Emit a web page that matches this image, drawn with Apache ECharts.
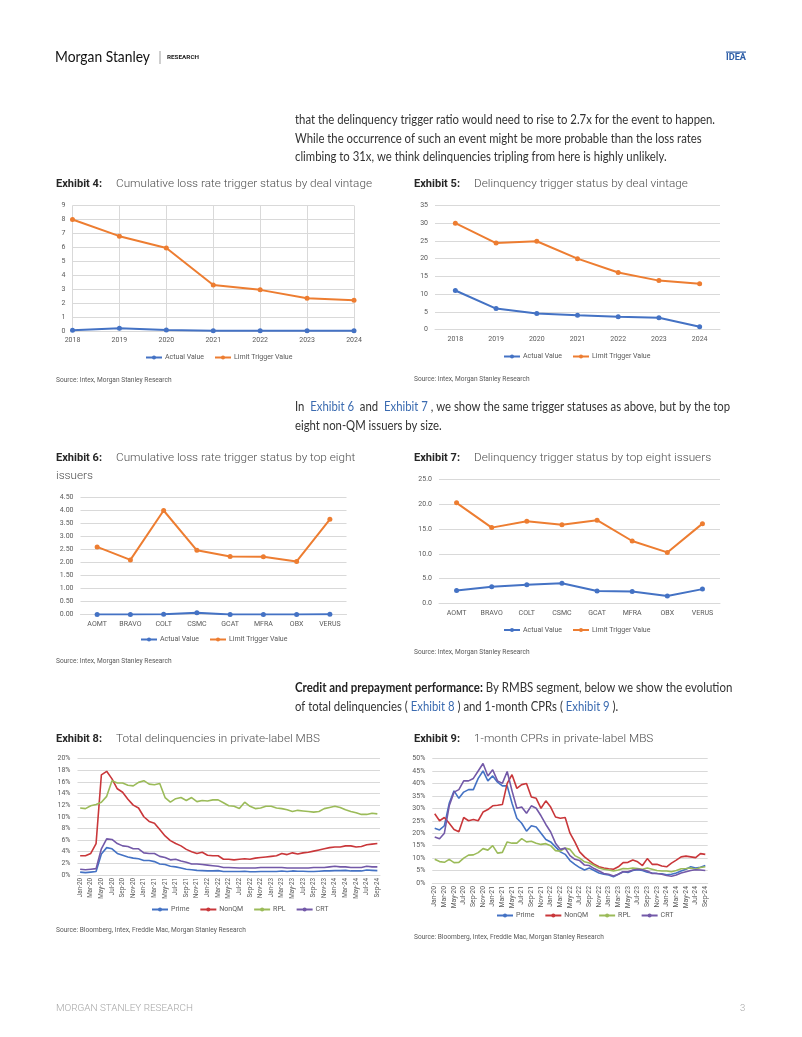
<!DOCTYPE html>
<html><head><meta charset="utf-8">
<script src="https://cdn.jsdelivr.net/npm/echarts@6/dist/echarts.min.js"></script>
<style>html,body{margin:0;padding:0;background:#fff}#c{width:802px;height:1037px}</style>
</head><body><div id="c"></div>
<script>
// ---------- data ----------
const vintages = ['2018','2019','2020','2021','2022','2023','2024'];
const ex4Actual = [0.05,0.2,0.07,0.02,0.02,0.01,0.01];
const ex4Limit  = [8.0,6.8,5.95,3.3,2.95,2.35,2.2];
const ex5Actual = [11,5.9,4.5,4.0,3.6,3.3,0.8];
const ex5Limit  = [30,24.4,24.9,20,16.1,13.8,12.9];

const issuers = ['AOMT','BRAVO','COLT','CSMC','GCAT','MFRA','OBX','VERUS'];
const ex6Actual = [0,0,0.01,0.07,0,0,0,0.01];
const ex6Limit  = [2.6,2.1,4.0,2.47,2.23,2.22,2.04,3.66];
const ex7Actual = [2.6,3.4,3.8,4.1,2.5,2.4,1.5,2.9];
const ex7Limit  = [20.3,15.3,16.6,15.9,16.8,12.6,10.3,16.1];

const months = ['Jan-20','Feb-20','Mar-20','Apr-20','May-20','Jun-20','Jul-20','Aug-20','Sep-20','Oct-20','Nov-20','Dec-20',
 'Jan-21','Feb-21','Mar-21','Apr-21','May-21','Jun-21','Jul-21','Aug-21','Sep-21','Oct-21','Nov-21','Dec-21',
 'Jan-22','Feb-22','Mar-22','Apr-22','May-22','Jun-22','Jul-22','Aug-22','Sep-22','Oct-22','Nov-22','Dec-22',
 'Jan-23','Feb-23','Mar-23','Apr-23','May-23','Jun-23','Jul-23','Aug-23','Sep-23','Oct-23','Nov-23','Dec-23',
 'Jan-24','Feb-24','Mar-24','Apr-24','May-24','Jun-24','Jul-24','Aug-24','Sep-24'];

const ex8Prime = [0.5,0.4,0.5,0.6,3.6,4.7,4.5,3.7,3.4,3.1,2.9,2.8, 2.5,2.5,2.3,1.9,1.8,1.5,1.4,1.2,1.0,0.9,0.8,0.75,
 0.7,0.7,0.75,0.6,0.6,0.6,0.6,0.65,0.55,0.55,0.6,0.6, 0.6,0.6,0.7,0.6,0.7,0.65,0.65,0.6,0.6,0.65,0.7,0.7,
 0.75,0.75,0.8,0.7,0.7,0.7,0.85,0.8,0.75];
const ex8NonQM = [3.3,3.3,3.7,5.4,17.2,17.8,16.5,14.8,14.2,13.0,12.0,11.5, 10.0,9.2,8.9,7.8,6.7,5.9,5.4,5.0,4.4,4.0,3.7,3.9,
 3.4,3.3,3.3,2.7,2.7,2.6,2.7,2.8,2.7,2.9,3.0,3.1, 3.2,3.3,3.7,3.5,3.8,3.6,3.8,3.9,4.1,4.3,4.5,4.7,
 4.8,4.8,5.0,5.0,4.8,4.9,5.2,5.3,5.4];
const ex8RPL = [11.5,11.4,11.9,12.1,12.5,13.5,16.2,15.8,15.8,15.4,15.3,15.9, 16.2,15.6,15.5,15.7,13.3,12.5,13.1,13.3,12.8,13.3,12.6,12.8,
 12.7,12.9,12.9,12.4,11.9,11.8,11.4,12.5,11.8,11.4,11.5,11.8, 11.8,11.5,11.4,11.2,10.9,11.1,11.0,10.9,10.8,10.9,11.4,11.6,
 11.8,11.6,11.2,10.9,10.7,10.4,10.4,10.6,10.5];
const ex8CRT = [1.0,0.9,1.0,1.1,4.5,6.2,6.1,5.4,5.0,4.9,4.5,4.5, 3.8,3.7,3.7,3.2,3.0,2.6,2.7,2.4,2.2,1.9,1.9,1.8,
 1.7,1.6,1.5,1.3,1.3,1.25,1.2,1.2,1.2,1.2,1.3,1.3, 1.3,1.3,1.3,1.2,1.2,1.2,1.2,1.2,1.3,1.3,1.3,1.4,
 1.5,1.4,1.4,1.3,1.3,1.3,1.5,1.4,1.4];

const ex9Prime = [22,21.3,23,32,37,34,36.5,37.5,37.5,42,45,41, 43,40.5,39,39,32,26,24,20.8,23,22.5,20,17.5,
 16.5,14.5,12.5,11.5,9,7.5,6.2,5.2,6,5,4,3.5, 3.2,2.5,3.5,4.5,4.2,5,5.3,5,4.3,4,3.8,3.7,
 3.3,3.5,4,4.8,5.5,6.5,6,6.3,7];
const ex9NonQM = [27.8,25,26.3,24,21.5,20.6,26.3,25,25.5,25,28.5,29.5, 31,31.2,31.5,40,43.5,38,39.5,40,34.5,34,30,33,
 30.5,26.5,26,26.3,20,16.5,12.5,10.5,9,7.5,6.5,6, 5.7,5.5,6.5,8.2,8.3,9.2,8.5,7,9.8,7.5,7.5,6.8,
 6.5,8,9.2,10.5,10.8,10.5,10.2,11.8,11.5];
const ex9RPL = [9.5,8.6,8.3,9.5,8.2,8.3,10,11.2,11.3,12.2,13.8,13.2, 15,12,12.3,16.5,16,16,17.8,16.5,16.8,16,15.5,15.8,
 15,13,12.8,14,13.5,11,10,8.5,8,7,6,5.5, 5.2,4.8,5.2,5.8,5.7,6,5.8,5.5,6,5.5,5,4.8,
 4.8,4.5,5,5.7,5.8,6,5.5,6.2,6.5];
const ex9CRT = [18.5,17.8,20,31,36.5,37.5,41,41,42,45,48,43, 45.5,41,40,44.8,37,30,30.5,28,31,30,27,23.5,
 20.5,16,13.5,14,11,9.5,9,7.2,7,5.8,4.8,3.8, 3.5,2.8,3.5,4.5,4.5,5.2,5.5,5.3,4.8,3.8,3.8,3.5,
 3,2.7,3.2,4,4.5,5,5.3,5.2,5];

// ---------- styles ----------
const BLUE = '#4472C4', ORANGE = '#ED7D31';
const C_PRIME = '#4472C4', C_NONQM = '#C9373A', C_RPL = '#9BBB59', C_CRT = '#7359A8';
const AX = '#595959', GRID = '#D9D9D9';
const UI = 'Roboto, "Liberation Sans", sans-serif';
const BODY = 'Lato, "Open Sans", sans-serif';

const measureCtx = document.createElement('canvas').getContext('2d');
function measure(font, s) { measureCtx.font = font; return measureCtx.measureText(s).width; }

const chart = echarts.init(document.getElementById('c'), null, {renderer: 'canvas'});

const grids = [
  {left: 72.5, top: 205.5, width: 281.5, height: 125.5},   // ex4
  {left: 435, top: 205.5, width: 285, height: 124},        // ex5
  {left: 80.5, top: 497.5, width: 266, height: 117},        // ex6
  {left: 439, top: 479.5, width: 281, height: 124},         // ex7
  {left: 77.5, top: 758.5, width: 302.5, height: 116.5},    // ex8
  {left: 432.3, top: 758.5, width: 275.4, height: 124.5}    // ex9
];

function xCat(gi, data, opts) {
  return Object.assign({
    type: 'category', gridIndex: gi, data: data, boundaryGap: true,
    axisLine: {lineStyle: {color: GRID}}, axisTick: {show: false},
    axisLabel: {color: AX, fontSize: 7, fontFamily: UI, margin: 6},
    splitLine: {show: false}
  }, opts || {});
}
function yVal(gi, max, interval, fmt) {
  return {
    type: 'value', gridIndex: gi, min: 0, max: max, interval: interval,
    axisLine: {show: false}, axisTick: {show: false},
    axisLabel: {color: AX, fontSize: 7, fontFamily: UI, margin: 7, formatter: fmt},
    splitLine: {lineStyle: {color: GRID, width: 1}}
  };
}
function trig(name, data, color, gi) {
  return {type: 'line', name: name, data: data, xAxisIndex: gi, yAxisIndex: gi,
    symbol: 'circle', symbolSize: 5, showSymbol: true,
    lineStyle: {width: 2, color: color}, itemStyle: {color: color},
    emphasis: {disabled: true}, animation: false};
}
function perf(name, data, color, gi) {
  return {type: 'line', name: name, data: data, xAxisIndex: gi, yAxisIndex: gi,
    showSymbol: false, symbol: 'circle', symbolSize: 4,
    lineStyle: {width: 1.6, color: color}, itemStyle: {color: color},
    emphasis: {disabled: true}, animation: false};
}
function legend(left, top, names, gap) {
  return {left: left, top: top, data: names, itemWidth: 16, itemHeight: 5, itemGap: gap || 10,
    textStyle: {color: AX, fontSize: 7, fontFamily: UI, padding: [0, 0, 0, -2]}, padding: 0, selectedMode: false};
}

// ---------- text helpers ----------
const texts = [];
function txt(x, y, s, font, fill, extra, sx) {
  texts.push({type: 'text', x: x, y: y, silent: true, scaleX: sx || 1,
    style: Object.assign({text: s, font: font, fill: fill, verticalAlign: 'middle', align: 'left'}, extra || {})});
}
// fit a plain string to a target width by horizontal scaling
function fitTxt(x, y, s, font, fill, width) {
  txt(x, y, s, font, fill, null, width / measure(font, s));
}

const BODY_FONT = '13.5px ' + BODY;
const P1L1 = 'that the delinquency trigger ratio would need to rise to 2.7x for the event to happen.';
const KB = 420 / measure(BODY_FONT, P1L1);   // one common horizontal scale for body text

const TITLE_FONT = '300 11.8px ' + UI;
const LABEL_FONT = 'bold 11.8px ' + UI;
const T4 = 'Cumulative loss rate trigger status by deal vintage';
const KT = 256 / measure(TITLE_FONT, T4);
const KL = 46 / measure(LABEL_FONT, 'Exhibit 4:');

function exhibitTitle(x, y, label, title, tx) {
  txt(x, y, label, LABEL_FONT, '#262626', null, KL);
  txt(tx, y, title, TITLE_FONT, '#4d4d4d', null, KT);
}

// header
fitTxt(55, 57, 'Morgan Stanley', '16px ' + BODY, '#111', 95);
texts.push({type: 'rect', silent: true, shape: {x: 159.6, y: 51, width: 0.8, height: 13}, style: {fill: '#888'}});
fitTxt(167, 58, 'RESEARCH', 'bold 5.5px ' + UI, '#222', 32);
texts.push({type: 'rect', silent: true, shape: {x: 726, y: 51.5, width: 20, height: 1.2}, style: {fill: '#2f5fa8'}});
fitTxt(726, 58, 'IDEA', 'bold 8.5px ' + UI, '#2f5fa8', 20);

// paragraph 1
txt(295, 120, P1L1, BODY_FONT, '#333', null, KB);
txt(295, 138.5, 'While the occurrence of such an event might be more probable than the loss rates', BODY_FONT, '#333', null, KB);
txt(295, 157, 'climbing to 31x, we think delinquencies tripling from here is highly unlikely.', BODY_FONT, '#333', null, KB);

const richBody = {
  n: {font: BODY_FONT, fill: '#333'},
  l: {font: BODY_FONT, fill: '#3b6bb0'},
  b: {font: 'bold ' + BODY_FONT, fill: '#222'}
};
txt(295, 407, '{n|In  }{l|Exhibit 6}{n|  and  }{l|Exhibit 7}{n| , we show the same trigger statuses as above, but by the top}', BODY_FONT, '#333', {rich: richBody}, KB);
txt(295, 425.5, 'eight non-QM issuers by size.', BODY_FONT, '#333', null, KB);
txt(295, 688, '{b|Credit and prepayment performance:}{n| By RMBS segment, below we show the evolution}', BODY_FONT, '#333', {rich: richBody}, KB * 1.01);
txt(295, 706.5, '{n|of total delinquencies ( }{l|Exhibit 8}{n| ) and 1-month CPRs ( }{l|Exhibit 9}{n| ).}', BODY_FONT, '#333', {rich: richBody}, KB);

// exhibit titles
exhibitTitle(56, 184, 'Exhibit 4:', T4, 116);
exhibitTitle(414, 184, 'Exhibit 5:', 'Delinquency trigger status by deal vintage', 474);
exhibitTitle(56, 458, 'Exhibit 6:', 'Cumulative loss rate trigger status by top eight', 116);
txt(56, 476, 'issuers', TITLE_FONT, '#4d4d4d', null, KT);
exhibitTitle(414, 458, 'Exhibit 7:', 'Delinquency trigger status by top eight issuers', 474);
exhibitTitle(56, 739.5, 'Exhibit 8:', 'Total delinquencies in private-label MBS', 116);
exhibitTitle(414, 739, 'Exhibit 9:', '1-month CPRs in private-label MBS', 474);

// sources
const SRC_FONT = '6.6px ' + UI, SRC_COL = '#595959';
txt(56, 380.5, 'Source: Intex, Morgan Stanley Research', SRC_FONT, SRC_COL);
txt(414, 379, 'Source: Intex, Morgan Stanley Research', SRC_FONT, SRC_COL);
txt(56, 661.5, 'Source: Intex, Morgan Stanley Research', SRC_FONT, SRC_COL);
txt(414, 652.5, 'Source: Intex, Morgan Stanley Research', SRC_FONT, SRC_COL);
txt(56, 930.5, 'Source: Bloomberg, Intex, Freddie Mac, Morgan Stanley Research', SRC_FONT, SRC_COL);
txt(414, 937.5, 'Source: Bloomberg, Intex, Freddie Mac, Morgan Stanley Research', SRC_FONT, SRC_COL);

// footer
fitTxt(56, 1009, 'MORGAN STANLEY RESEARCH', '300 9.5px ' + UI, '#a6a6a6', 137);
txt(740, 1009, '3', '300 9.5px ' + UI, '#a6a6a6');

const pctFmt = function (v) { return v + '%'; };
const rotLabel8 = {color: AX, fontSize: 6.3, fontFamily: UI, rotate: 90, interval: 1, margin: 3};
const rotLabel9 = {color: AX, fontSize: 6.8, fontFamily: UI, rotate: 90, interval: 1, margin: 3};

chart.setOption({
  animation: false,
  backgroundColor: '#fff',
  grid: grids,
  xAxis: [
    xCat(0, vintages, {boundaryGap: false, splitLine: {show: true, lineStyle: {color: GRID}}}),
    xCat(1, vintages),
    xCat(2, issuers),
    xCat(3, issuers),
    xCat(4, months, {axisLabel: rotLabel8}),
    xCat(5, months, {axisLabel: rotLabel9})
  ],
  yAxis: [
    yVal(0, 9, 1),
    yVal(1, 35, 5),
    yVal(2, 4.5, 0.5, function (v) { return v.toFixed(2); }),
    yVal(3, 25, 5, function (v) { return v.toFixed(1); }),
    yVal(4, 20, 2, pctFmt),
    yVal(5, 50, 5, pctFmt)
  ],
  legend: [
    legend(145, 354, ['Actual Value', 'Limit Trigger Value']),
    legend(503, 353, ['Actual Value', 'Limit Trigger Value']),
    legend(140, 636, ['Actual Value', 'Limit Trigger Value']),
    legend(503, 626.5, ['Actual Value', 'Limit Trigger Value']),
    legend(151, 906, ['Prime', 'NonQM', 'RPL', 'CRT']),
    legend(496, 912, ['Prime', 'NonQM', 'RPL', 'CRT'])
  ],
  series: [
    trig('Actual Value', ex4Actual, BLUE, 0),
    trig('Limit Trigger Value', ex4Limit, ORANGE, 0),
    trig('Actual Value', ex5Actual, BLUE, 1),
    trig('Limit Trigger Value', ex5Limit, ORANGE, 1),
    trig('Actual Value', ex6Actual, BLUE, 2),
    trig('Limit Trigger Value', ex6Limit, ORANGE, 2),
    trig('Actual Value', ex7Actual, BLUE, 3),
    trig('Limit Trigger Value', ex7Limit, ORANGE, 3),
    perf('Prime', ex8Prime, C_PRIME, 4),
    perf('NonQM', ex8NonQM, C_NONQM, 4),
    perf('RPL', ex8RPL, C_RPL, 4),
    perf('CRT', ex8CRT, C_CRT, 4),
    perf('Prime', ex9Prime, C_PRIME, 5),
    perf('NonQM', ex9NonQM, C_NONQM, 5),
    perf('RPL', ex9RPL, C_RPL, 5),
    perf('CRT', ex9CRT, C_CRT, 5)
  ],
  graphic: {elements: texts}
});
</script>
</body></html>
